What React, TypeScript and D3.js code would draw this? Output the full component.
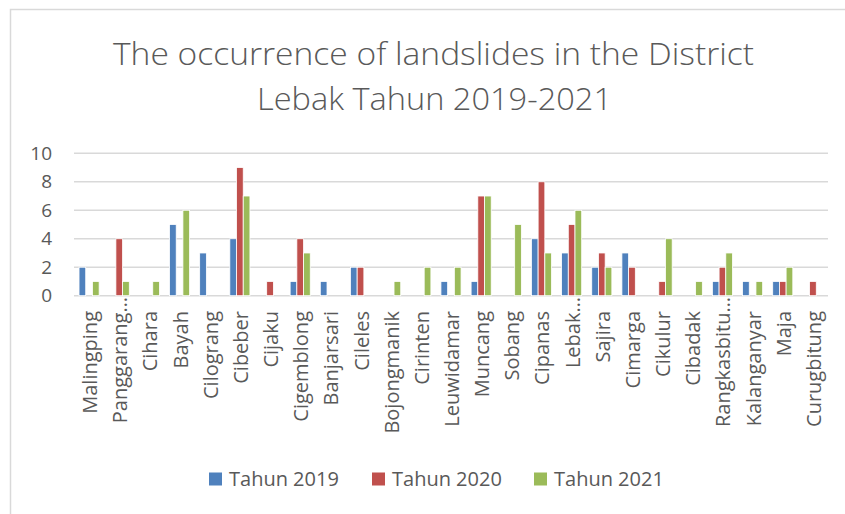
import React from "react";
import * as d3 from "d3";

const categories = [
  "Malingping", "Panggarang…", "Cihara", "Bayah", "Cilograng", "Cibeber", "Cijaku",
  "Cigemblong", "Banjarsari", "Cileles", "Bojongmanik", "Cirinten", "Leuwidamar",
  "Muncang", "Sobang", "Cipanas", "Lebak…", "Sajira", "Cimarga", "Cikulur",
  "Cibadak", "Rangkasbitu…", "Kalanganyar", "Maja", "Curugbitung",
];
const tahun2019 = [2, 0, 0, 5, 3, 4, 0, 1, 1, 2, 0, 0, 1, 1, 0, 4, 3, 2, 3, 0, 0, 1, 1, 1, 0];
const tahun2020 = [0, 4, 0, 0, 0, 9, 1, 4, 0, 2, 0, 0, 0, 7, 0, 8, 5, 3, 2, 1, 0, 2, 0, 1, 1];
const tahun2021 = [1, 1, 1, 6, 0, 7, 0, 3, 0, 0, 1, 2, 2, 7, 5, 3, 6, 2, 0, 4, 1, 3, 1, 2, 0];
const seriesNames = ["Tahun 2019", "Tahun 2020", "Tahun 2021"];
const seriesColors = ["#4f81bd", "#c0504d", "#9bbb59"];
const yTicks = [0, 2, 4, 6, 8, 10];
const titleLines = ["The occurrence of landslides in the District", "Lebak Tahun 2019-2021"];

const W = 845;
const H = 514;
const FONT = "'Open Sans', sans-serif";
const TXT = "#595959";

export default function App() {
  const series = [tahun2019, tahun2020, tahun2021];
  const left = 74;
  const right = 828;
  const top = 153.3;
  const bottom = 295.7;

  const x = d3.scaleBand<string>().domain(categories).range([left, right]).padding(0);
  const step = x.step();
  const gap = step * 1.5 / 4.5;
  const xs = d3.scaleBand<number>().domain([0, 1, 2]).range([gap / 2, step - gap / 2]).padding(0);
  const y = d3.scaleLinear().domain([0, 10]).range([bottom, top]);

  const legendX = [209, 372, 534];

  return (
    <svg width={W} height={H} style={{ position: "absolute", left: 0, top: 0, background: "#fff" }}
      fontFamily={FONT}>
      <rect x={0} y={0} width={W} height={H} fill="#fff" />
      <rect x={10.5} y={9.5} width={W + 50} height={H + 50} fill="none" stroke="#d9d9d9" strokeWidth={1.5} />
      <text x={433.5} y={65} textAnchor="middle" fontSize={31} fontWeight={300} fill={TXT}
        textLength={641} lengthAdjust="spacingAndGlyphs">{titleLines[0]}</text>
      <text x={434.5} y={110} textAnchor="middle" fontSize={31} fontWeight={300} fill={TXT}
        textLength={355} lengthAdjust="spacingAndGlyphs">{titleLines[1]}</text>

      {yTicks.map((t) => (
        <g key={t}>
          <line x1={left} x2={right} y1={y(t)} y2={y(t)} stroke="#d9d9d9" strokeWidth={1.5} />
          <text x={52} y={y(t)} dy="0.35em" textAnchor="end" fontSize={19} fill={TXT}>{t}</text>
        </g>
      ))}

      {categories.map((c, i) => (
        <g key={c} transform={`translate(${x(c)},0)`}>
          {series.map((s, k) =>
            s[i] > 0 ? (
              <rect key={k} x={xs(k)} y={y(s[i])} width={xs.bandwidth()} height={y(0) - y(s[i])}
                fill={seriesColors[k]} stroke="#fff" strokeWidth={0.8} />
            ) : null
          )}
        </g>
      ))}

      {categories.map((c) => {
        const cx = (x(c) as number) + step / 2;
        const ell = c.endsWith("…");
        const yEnd = ell ? 297 : 311;
        return (
          <text key={c} transform={`translate(${cx + 1},${yEnd}) rotate(-90)`} textAnchor="end"
            dy="0.35em" fontSize={20} fill={TXT}>{c}</text>
        );
      })}

      {seriesNames.map((n, k) => (
        <g key={n}>
          <rect x={legendX[k]} y={472.5} width={13} height={13} fill={seriesColors[k]} />
          <text x={legendX[k] + 20} y={485.5} fontSize={20} fill={TXT}>{n}</text>
        </g>
      ))}
    </svg>
  );
}
